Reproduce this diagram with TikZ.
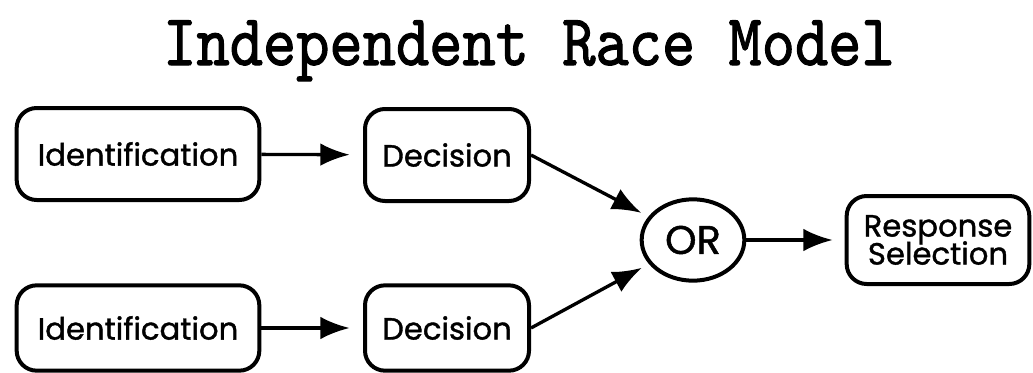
\documentclass[tikz,border=0pt]{standalone}
\usepackage{fontspec}
\usepackage{tikz}
\usetikzlibrary{arrows.meta, shapes.geometric}
\newfontfamily\boxfont[FakeBold=1.2]{Poppins}
\newfontfamily\titlefont[FakeBold=1.5]{lmmono10-regular.otf}

\tikzset{
	stagebox/.style = {draw, line width = 3pt, rounded corners = 15pt, inner sep = 0pt,
		font = \boxfont\fontsize{23}{24}\selectfont, align = center},
	orbox/.style = {draw, ellipse, line width = 3pt, inner sep = 0pt,
		font = \boxfont\fontsize{30}{30}\selectfont},
	flow/.style = {line width = 2.5pt, -{Latex[length = 22pt, width = 17pt]}}
}

\begin{document}
\begin{tikzpicture}[x = 0.75pt, y = -0.75pt]
	    \useasboundingbox (0,0) rectangle (1033,372);
	    \node[anchor = base, font = \titlefont\fontsize{47.5}{50}\selectfont] (title) at (529,65) {\scalebox{1}[1.15]{Independent Race Model}};
	    \node[stagebox, minimum width = 182pt, minimum height = 69pt] (idA) at (138,154) {Identification};
	    \node[stagebox, minimum width = 123pt, minimum height = 69pt] (decA) at (447,155) {Decision};
	    \node[stagebox, minimum width = 182pt, minimum height = 64pt] (idB) at (138,328) {Identification};
	    \node[stagebox, minimum width = 123pt, minimum height = 64pt] (decB) at (447,328) {Decision};
	    \node[orbox, minimum width = 77pt, minimum height = 61pt] (orN) at (693,240) {OR};
	    \node[stagebox, minimum width = 137pt, minimum height = 66pt] (resp) at (938,240) {Response\\[-3pt]Selection};
	    \draw[flow, shorten > = 10pt] (idA) -- (decA);
	    \draw[flow, shorten > = 10pt] (idB) -- (decB);
	    \draw[flow, shorten > = 6pt] (decA.east) -- (orN);
	    \draw[flow, shorten > = 6pt] (decB.east) -- (orN);
	    \draw[flow, shorten > = 9pt] (orN) -- (resp);
	\end{tikzpicture}
\end{document}
